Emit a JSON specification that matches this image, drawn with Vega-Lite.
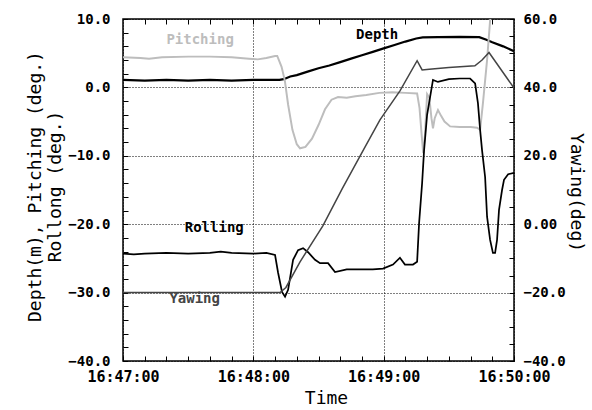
{
  "$schema": "https://vega.github.io/schema/vega-lite/v6.json",
  "width": 391,
  "height": 342,
  "autosize": "none",
  "padding": {"left": 123, "top": 19, "right": 78, "bottom": 49},
  "background": "white",
  "config": {
    "view": {"stroke": "#000000", "strokeWidth": 1.5},
    "axis": {
      "labelFont": "DejaVu Sans Mono",
      "labelFontWeight": "bold",
      "labelFontSize": 15,
      "labelColor": "#000000",
      "titleFont": "DejaVu Sans Mono",
      "titleFontWeight": "normal",
      "titleFontSize": 18,
      "titleColor": "#000000",
      "tickColor": "#000000",
      "tickWidth": 1,
      "domain": false,
      "labelOverlap": false,
      "labelFlush": false
    }
  },
  "datasets": {
    "left": [
      {"series": "Depth", "t": "2000-01-01T16:47:00", "v": 1.1},
      {"series": "Depth", "t": "2000-01-01T16:47:10", "v": 1.0},
      {"series": "Depth", "t": "2000-01-01T16:47:20", "v": 1.1},
      {"series": "Depth", "t": "2000-01-01T16:47:30", "v": 1.0},
      {"series": "Depth", "t": "2000-01-01T16:47:40", "v": 1.1},
      {"series": "Depth", "t": "2000-01-01T16:47:50", "v": 1.0},
      {"series": "Depth", "t": "2000-01-01T16:48:00", "v": 1.1},
      {"series": "Depth", "t": "2000-01-01T16:48:12", "v": 1.1},
      {"series": "Depth", "t": "2000-01-01T16:48:14", "v": 1.2},
      {"series": "Depth", "t": "2000-01-01T16:48:17", "v": 1.6},
      {"series": "Depth", "t": "2000-01-01T16:48:20", "v": 1.8},
      {"series": "Depth", "t": "2000-01-01T16:48:25", "v": 2.3},
      {"series": "Depth", "t": "2000-01-01T16:48:30", "v": 2.8},
      {"series": "Depth", "t": "2000-01-01T16:48:35", "v": 3.2},
      {"series": "Depth", "t": "2000-01-01T16:48:40", "v": 3.7},
      {"series": "Depth", "t": "2000-01-01T16:48:45", "v": 4.2},
      {"series": "Depth", "t": "2000-01-01T16:48:50", "v": 4.7},
      {"series": "Depth", "t": "2000-01-01T16:48:55", "v": 5.2},
      {"series": "Depth", "t": "2000-01-01T16:49:00", "v": 5.7},
      {"series": "Depth", "t": "2000-01-01T16:49:05", "v": 6.2},
      {"series": "Depth", "t": "2000-01-01T16:49:10", "v": 6.7},
      {"series": "Depth", "t": "2000-01-01T16:49:15", "v": 7.15},
      {"series": "Depth", "t": "2000-01-01T16:49:18", "v": 7.3},
      {"series": "Depth", "t": "2000-01-01T16:49:25", "v": 7.35},
      {"series": "Depth", "t": "2000-01-01T16:49:35", "v": 7.4},
      {"series": "Depth", "t": "2000-01-01T16:49:44", "v": 7.35},
      {"series": "Depth", "t": "2000-01-01T16:49:47", "v": 7.0},
      {"series": "Depth", "t": "2000-01-01T16:49:50", "v": 6.6},
      {"series": "Depth", "t": "2000-01-01T16:49:55", "v": 6.0},
      {"series": "Depth", "t": "2000-01-01T16:50:00", "v": 5.3},
      {"series": "Pitching", "t": "2000-01-01T16:47:00", "v": 4.4},
      {"series": "Pitching", "t": "2000-01-01T16:47:08", "v": 4.3},
      {"series": "Pitching", "t": "2000-01-01T16:47:12", "v": 4.2},
      {"series": "Pitching", "t": "2000-01-01T16:47:18", "v": 4.4},
      {"series": "Pitching", "t": "2000-01-01T16:47:30", "v": 4.5},
      {"series": "Pitching", "t": "2000-01-01T16:47:40", "v": 4.5},
      {"series": "Pitching", "t": "2000-01-01T16:47:50", "v": 4.4},
      {"series": "Pitching", "t": "2000-01-01T16:47:58", "v": 4.2},
      {"series": "Pitching", "t": "2000-01-01T16:48:02", "v": 4.1},
      {"series": "Pitching", "t": "2000-01-01T16:48:06", "v": 4.3},
      {"series": "Pitching", "t": "2000-01-01T16:48:10", "v": 4.6},
      {"series": "Pitching", "t": "2000-01-01T16:48:11", "v": 4.6},
      {"series": "Pitching", "t": "2000-01-01T16:48:13", "v": 3.0},
      {"series": "Pitching", "t": "2000-01-01T16:48:14.500", "v": 1.0},
      {"series": "Pitching", "t": "2000-01-01T16:48:16", "v": -2.5},
      {"series": "Pitching", "t": "2000-01-01T16:48:18", "v": -6.2},
      {"series": "Pitching", "t": "2000-01-01T16:48:20", "v": -8.3},
      {"series": "Pitching", "t": "2000-01-01T16:48:21.500", "v": -8.9},
      {"series": "Pitching", "t": "2000-01-01T16:48:24", "v": -8.7},
      {"series": "Pitching", "t": "2000-01-01T16:48:27", "v": -7.5},
      {"series": "Pitching", "t": "2000-01-01T16:48:30", "v": -5.5},
      {"series": "Pitching", "t": "2000-01-01T16:48:33", "v": -3.2},
      {"series": "Pitching", "t": "2000-01-01T16:48:36", "v": -1.8},
      {"series": "Pitching", "t": "2000-01-01T16:48:39", "v": -1.4},
      {"series": "Pitching", "t": "2000-01-01T16:48:43", "v": -1.5},
      {"series": "Pitching", "t": "2000-01-01T16:48:47", "v": -1.3},
      {"series": "Pitching", "t": "2000-01-01T16:48:52", "v": -1.1},
      {"series": "Pitching", "t": "2000-01-01T16:48:58", "v": -0.8},
      {"series": "Pitching", "t": "2000-01-01T16:49:04", "v": -0.7},
      {"series": "Pitching", "t": "2000-01-01T16:49:10", "v": -0.8},
      {"series": "Pitching", "t": "2000-01-01T16:49:15.400", "v": -0.9},
      {"series": "Pitching", "t": "2000-01-01T16:49:16.500", "v": -3.0},
      {"series": "Pitching", "t": "2000-01-01T16:49:17.500", "v": -7.0},
      {"series": "Pitching", "t": "2000-01-01T16:49:18.200", "v": -9.6},
      {"series": "Pitching", "t": "2000-01-01T16:49:19", "v": -7.0},
      {"series": "Pitching", "t": "2000-01-01T16:49:20", "v": -1.0},
      {"series": "Pitching", "t": "2000-01-01T16:49:21", "v": -1.5},
      {"series": "Pitching", "t": "2000-01-01T16:49:22", "v": -4.5},
      {"series": "Pitching", "t": "2000-01-01T16:49:22.700", "v": -6.0},
      {"series": "Pitching", "t": "2000-01-01T16:49:23.500", "v": -4.5},
      {"series": "Pitching", "t": "2000-01-01T16:49:25", "v": -3.3},
      {"series": "Pitching", "t": "2000-01-01T16:49:26.500", "v": -4.2},
      {"series": "Pitching", "t": "2000-01-01T16:49:28", "v": -5.0},
      {"series": "Pitching", "t": "2000-01-01T16:49:30.600", "v": -5.7},
      {"series": "Pitching", "t": "2000-01-01T16:49:35", "v": -5.8},
      {"series": "Pitching", "t": "2000-01-01T16:49:40", "v": -5.8},
      {"series": "Pitching", "t": "2000-01-01T16:49:43", "v": -5.9},
      {"series": "Pitching", "t": "2000-01-01T16:49:44.400", "v": -6.2},
      {"series": "Pitching", "t": "2000-01-01T16:49:45.700", "v": -2.3},
      {"series": "Pitching", "t": "2000-01-01T16:49:47.600", "v": 4.0},
      {"series": "Pitching", "t": "2000-01-01T16:49:49", "v": 9.8},
      {"series": "Pitching", "t": "2000-01-01T16:49:51", "v": 15.0},
      {"series": "Rolling", "t": "2000-01-01T16:47:00", "v": -24.3},
      {"series": "Rolling", "t": "2000-01-01T16:47:05", "v": -24.4},
      {"series": "Rolling", "t": "2000-01-01T16:47:10", "v": -24.3},
      {"series": "Rolling", "t": "2000-01-01T16:47:20", "v": -24.2},
      {"series": "Rolling", "t": "2000-01-01T16:47:30", "v": -24.3},
      {"series": "Rolling", "t": "2000-01-01T16:47:40", "v": -24.2},
      {"series": "Rolling", "t": "2000-01-01T16:47:45", "v": -24.0},
      {"series": "Rolling", "t": "2000-01-01T16:47:50", "v": -24.2},
      {"series": "Rolling", "t": "2000-01-01T16:48:00", "v": -24.3},
      {"series": "Rolling", "t": "2000-01-01T16:48:06", "v": -24.2},
      {"series": "Rolling", "t": "2000-01-01T16:48:10", "v": -24.5},
      {"series": "Rolling", "t": "2000-01-01T16:48:11.400", "v": -27.1},
      {"series": "Rolling", "t": "2000-01-01T16:48:13.200", "v": -29.9},
      {"series": "Rolling", "t": "2000-01-01T16:48:14.600", "v": -30.6},
      {"series": "Rolling", "t": "2000-01-01T16:48:16", "v": -29.6},
      {"series": "Rolling", "t": "2000-01-01T16:48:18.300", "v": -25.2},
      {"series": "Rolling", "t": "2000-01-01T16:48:20.600", "v": -23.8},
      {"series": "Rolling", "t": "2000-01-01T16:48:22.900", "v": -23.5},
      {"series": "Rolling", "t": "2000-01-01T16:48:25.200", "v": -24.1},
      {"series": "Rolling", "t": "2000-01-01T16:48:28.400", "v": -25.2},
      {"series": "Rolling", "t": "2000-01-01T16:48:30.700", "v": -25.7},
      {"series": "Rolling", "t": "2000-01-01T16:48:34.400", "v": -25.7},
      {"series": "Rolling", "t": "2000-01-01T16:48:37.600", "v": -27.0},
      {"series": "Rolling", "t": "2000-01-01T16:48:43", "v": -26.6},
      {"series": "Rolling", "t": "2000-01-01T16:48:49", "v": -26.6},
      {"series": "Rolling", "t": "2000-01-01T16:48:55", "v": -26.6},
      {"series": "Rolling", "t": "2000-01-01T16:48:59.700", "v": -26.5},
      {"series": "Rolling", "t": "2000-01-01T16:49:04.300", "v": -25.9},
      {"series": "Rolling", "t": "2000-01-01T16:49:07.500", "v": -24.9},
      {"series": "Rolling", "t": "2000-01-01T16:49:09.800", "v": -25.9},
      {"series": "Rolling", "t": "2000-01-01T16:49:13.500", "v": -25.9},
      {"series": "Rolling", "t": "2000-01-01T16:49:15.400", "v": -25.5},
      {"series": "Rolling", "t": "2000-01-01T16:49:16.300", "v": -19.9},
      {"series": "Rolling", "t": "2000-01-01T16:49:17.700", "v": -14.0},
      {"series": "Rolling", "t": "2000-01-01T16:49:18.600", "v": -9.2},
      {"series": "Rolling", "t": "2000-01-01T16:49:20", "v": -4.0},
      {"series": "Rolling", "t": "2000-01-01T16:49:22.700", "v": 1.1},
      {"series": "Rolling", "t": "2000-01-01T16:49:25", "v": 0.8},
      {"series": "Rolling", "t": "2000-01-01T16:49:30", "v": 1.2},
      {"series": "Rolling", "t": "2000-01-01T16:49:35", "v": 1.3},
      {"series": "Rolling", "t": "2000-01-01T16:49:39.800", "v": 1.3},
      {"series": "Rolling", "t": "2000-01-01T16:49:42.100", "v": 0.6},
      {"series": "Rolling", "t": "2000-01-01T16:49:43.400", "v": -2.3},
      {"series": "Rolling", "t": "2000-01-01T16:49:44.400", "v": -6.2},
      {"series": "Rolling", "t": "2000-01-01T16:49:45.300", "v": -9.2},
      {"series": "Rolling", "t": "2000-01-01T16:49:46.700", "v": -13.1},
      {"series": "Rolling", "t": "2000-01-01T16:49:47.600", "v": -18.9},
      {"series": "Rolling", "t": "2000-01-01T16:49:49", "v": -22.3},
      {"series": "Rolling", "t": "2000-01-01T16:49:50.300", "v": -24.2},
      {"series": "Rolling", "t": "2000-01-01T16:49:51.300", "v": -24.2},
      {"series": "Rolling", "t": "2000-01-01T16:49:52.200", "v": -22.3},
      {"series": "Rolling", "t": "2000-01-01T16:49:53.100", "v": -17.9},
      {"series": "Rolling", "t": "2000-01-01T16:49:54.500", "v": -15.0},
      {"series": "Rolling", "t": "2000-01-01T16:49:55.400", "v": -13.5},
      {"series": "Rolling", "t": "2000-01-01T16:49:57.300", "v": -12.7},
      {"series": "Rolling", "t": "2000-01-01T16:50:00", "v": -12.5}
    ],
    "yaw": [
      {"series": "Yawing", "t": "2000-01-01T16:47:00", "v": -20},
      {"series": "Yawing", "t": "2000-01-01T16:48:12.300", "v": -20},
      {"series": "Yawing", "t": "2000-01-01T16:48:15", "v": -18.5},
      {"series": "Yawing", "t": "2000-01-01T16:48:21.500", "v": -11},
      {"series": "Yawing", "t": "2000-01-01T16:48:32", "v": -0.5},
      {"series": "Yawing", "t": "2000-01-01T16:48:41", "v": 10.5},
      {"series": "Yawing", "t": "2000-01-01T16:48:50.500", "v": 21.5},
      {"series": "Yawing", "t": "2000-01-01T16:48:58.300", "v": 30.5},
      {"series": "Yawing", "t": "2000-01-01T16:49:07.500", "v": 39},
      {"series": "Yawing", "t": "2000-01-01T16:49:15.400", "v": 47.8},
      {"series": "Yawing", "t": "2000-01-01T16:49:17.700", "v": 45.1},
      {"series": "Yawing", "t": "2000-01-01T16:49:21", "v": 45.3},
      {"series": "Yawing", "t": "2000-01-01T16:49:30", "v": 45.8},
      {"series": "Yawing", "t": "2000-01-01T16:49:42", "v": 46.3},
      {"series": "Yawing", "t": "2000-01-01T16:49:45.300", "v": 48},
      {"series": "Yawing", "t": "2000-01-01T16:49:48.500", "v": 50.2},
      {"series": "Yawing", "t": "2000-01-01T16:50:00", "v": 39.8}
    ],
    "labels": [
      {"series": "Pitching", "t": "2000-01-01T16:47:35.500", "v": 6.9},
      {"series": "Depth", "t": "2000-01-01T16:48:57", "v": 7.7},
      {"series": "Rolling", "t": "2000-01-01T16:47:42", "v": -20.6},
      {"series": "Yawing", "t": "2000-01-01T16:47:33", "v": -31.0}
    ]
  },
  "layer": [
    {
      "encoding": {
        "x": {
          "field": "t",
          "type": "temporal",
          "scale": {
            "domain": [
              {"year": 2000, "month": 1, "date": 1, "hours": 16, "minutes": 47, "seconds": 0},
              {"year": 2000, "month": 1, "date": 1, "hours": 16, "minutes": 50, "seconds": 0}
            ],
            "nice": false
          },
          "axis": {
            "orient": "bottom",
            "title": "Time",
            "titleX": 203,
            "titleY": 37,
            "titleBaseline": "middle",
            "values": [
              {"year": 2000, "month": 1, "date": 1, "hours": 16, "minutes": 47, "seconds": 0},
              {"year": 2000, "month": 1, "date": 1, "hours": 16, "minutes": 47, "seconds": 10},
              {"year": 2000, "month": 1, "date": 1, "hours": 16, "minutes": 47, "seconds": 20},
              {"year": 2000, "month": 1, "date": 1, "hours": 16, "minutes": 47, "seconds": 30},
              {"year": 2000, "month": 1, "date": 1, "hours": 16, "minutes": 47, "seconds": 40},
              {"year": 2000, "month": 1, "date": 1, "hours": 16, "minutes": 47, "seconds": 50},
              {"year": 2000, "month": 1, "date": 1, "hours": 16, "minutes": 48, "seconds": 0},
              {"year": 2000, "month": 1, "date": 1, "hours": 16, "minutes": 48, "seconds": 10},
              {"year": 2000, "month": 1, "date": 1, "hours": 16, "minutes": 48, "seconds": 20},
              {"year": 2000, "month": 1, "date": 1, "hours": 16, "minutes": 48, "seconds": 30},
              {"year": 2000, "month": 1, "date": 1, "hours": 16, "minutes": 48, "seconds": 40},
              {"year": 2000, "month": 1, "date": 1, "hours": 16, "minutes": 48, "seconds": 50},
              {"year": 2000, "month": 1, "date": 1, "hours": 16, "minutes": 49, "seconds": 0},
              {"year": 2000, "month": 1, "date": 1, "hours": 16, "minutes": 49, "seconds": 10},
              {"year": 2000, "month": 1, "date": 1, "hours": 16, "minutes": 49, "seconds": 20},
              {"year": 2000, "month": 1, "date": 1, "hours": 16, "minutes": 49, "seconds": 30},
              {"year": 2000, "month": 1, "date": 1, "hours": 16, "minutes": 49, "seconds": 40},
              {"year": 2000, "month": 1, "date": 1, "hours": 16, "minutes": 49, "seconds": 50},
              {"year": 2000, "month": 1, "date": 1, "hours": 16, "minutes": 50, "seconds": 0}
            ],
            "labelExpr": "seconds(datum.value) == 0 ? timeFormat(datum.value, '%H:%M:%S') : ''",
            "tickSize": -5,
            "labelPadding": 13,
            "grid": true,
            "gridColor": "#000000",
            "gridDash": [1, 2],
            "gridOpacity": {"condition": {"test": "seconds(datum.value) == 0", "value": 1}, "value": 0}
          }
        },
        "y": {
          "field": "v",
          "type": "quantitative",
          "scale": {"domain": [-40, 10], "nice": false, "zero": false},
          "axis": {
            "orient": "left",
            "title": ["Depth(m), Pitching (deg.)", "Rollong (deg.)"],
            "titleX": -88,
            "titleY": 167,
            "titleBaseline": "middle",
            "titleLineHeight": 20,
            "values": [-40, -38, -36, -34, -32, -30, -28, -26, -24, -22, -20, -18, -16, -14, -12, -10, -8, -6, -4, -2, 0, 2, 4, 6, 8, 10],
            "labelExpr": "datum.value % 10 == 0 ? format(datum.value, '.1f') : ''",
            "labelFontSize": 14,
            "tickSize": -5,
            "labelPadding": 18,
            "grid": true,
            "gridColor": "#000000",
            "gridDash": [1, 2],
            "gridOpacity": {"condition": {"test": "datum.value % 10 == 0", "value": 1}, "value": 0}
          }
        }
      },
      "layer": [
        {
          "data": {"name": "left"},
          "mark": {"type": "line", "clip": true},
          "encoding": {
            "color": {
              "field": "series",
              "type": "nominal",
              "scale": {"domain": ["Depth", "Pitching", "Rolling", "Yawing"], "range": ["#000000", "#bdbdbd", "#000000", "#444444"]},
              "legend": null
            },
            "strokeWidth": {
              "field": "series",
              "type": "nominal",
              "scale": {"domain": ["Depth", "Pitching", "Rolling", "Yawing"], "range": [2.2, 1.5, 1.5, 1.2]},
              "legend": null
            }
          }
        },
        {
          "data": {"name": "labels"},
          "mark": {"type": "text", "font": "DejaVu Sans Mono", "fontWeight": "bold", "fontSize": 14},
          "encoding": {
            "text": {"field": "series", "type": "nominal"},
            "color": {"field": "series", "type": "nominal", "legend": null}
          }
        }
      ]
    },
    {
      "data": {"name": "yaw"},
      "mark": {"type": "line", "clip": true},
      "encoding": {
        "x": {
          "field": "t",
          "type": "temporal",
          "axis": {
            "orient": "top",
            "title": null,
            "labels": false,
            "values": [
              {"year": 2000, "month": 1, "date": 1, "hours": 16, "minutes": 47, "seconds": 10},
              {"year": 2000, "month": 1, "date": 1, "hours": 16, "minutes": 47, "seconds": 20},
              {"year": 2000, "month": 1, "date": 1, "hours": 16, "minutes": 47, "seconds": 30},
              {"year": 2000, "month": 1, "date": 1, "hours": 16, "minutes": 47, "seconds": 40},
              {"year": 2000, "month": 1, "date": 1, "hours": 16, "minutes": 47, "seconds": 50},
              {"year": 2000, "month": 1, "date": 1, "hours": 16, "minutes": 48, "seconds": 0},
              {"year": 2000, "month": 1, "date": 1, "hours": 16, "minutes": 48, "seconds": 10},
              {"year": 2000, "month": 1, "date": 1, "hours": 16, "minutes": 48, "seconds": 20},
              {"year": 2000, "month": 1, "date": 1, "hours": 16, "minutes": 48, "seconds": 30},
              {"year": 2000, "month": 1, "date": 1, "hours": 16, "minutes": 48, "seconds": 40},
              {"year": 2000, "month": 1, "date": 1, "hours": 16, "minutes": 48, "seconds": 50},
              {"year": 2000, "month": 1, "date": 1, "hours": 16, "minutes": 49, "seconds": 0},
              {"year": 2000, "month": 1, "date": 1, "hours": 16, "minutes": 49, "seconds": 10},
              {"year": 2000, "month": 1, "date": 1, "hours": 16, "minutes": 49, "seconds": 20},
              {"year": 2000, "month": 1, "date": 1, "hours": 16, "minutes": 49, "seconds": 30},
              {"year": 2000, "month": 1, "date": 1, "hours": 16, "minutes": 49, "seconds": 40},
              {"year": 2000, "month": 1, "date": 1, "hours": 16, "minutes": 49, "seconds": 50}
            ],
            "tickSize": -5,
            "grid": false
          }
        },
        "y": {
          "field": "v",
          "type": "quantitative",
          "scale": {"domain": [-40, 60], "nice": false, "zero": false},
          "axis": {
            "orient": "right",
            "title": "Yawing(deg)",
            "titleAngle": 90,
            "titleX": 61,
            "titleY": 173,
            "titleBaseline": "middle",
            "values": [-40, -35, -30, -25, -20, -15, -10, -5, 0, 5, 10, 15, 20, 25, 30, 35, 40, 45, 50, 55, 60],
            "labelExpr": "datum.value % 20 == 0 ? (datum.value == 0 ? '0.00' : format(datum.value, '.1f')) : ''",
            "labelFontSize": 14,
            "tickSize": -5,
            "labelPadding": 14,
            "grid": false
          }
        },
        "color": {"field": "series", "type": "nominal", "legend": null},
        "strokeWidth": {"field": "series", "type": "nominal", "legend": null}
      }
    }
  ],
  "resolve": {
    "scale": {"y": "independent"},
    "axis": {"x": "independent", "y": "independent"}
  }
}
